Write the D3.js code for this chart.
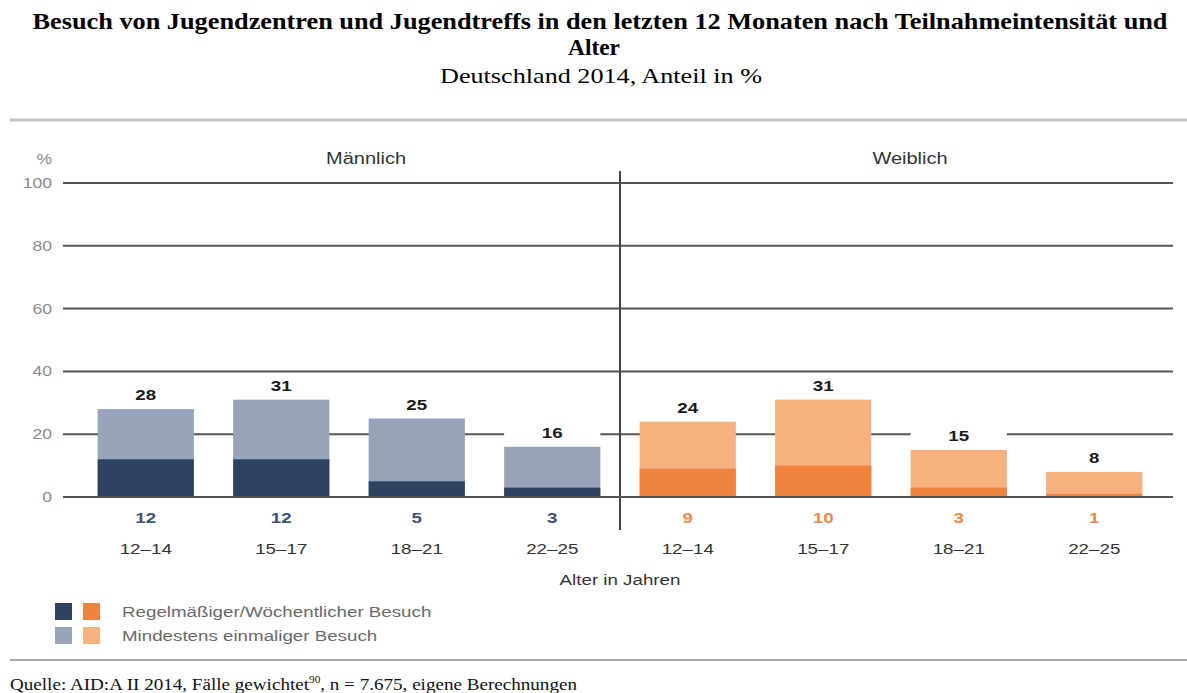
<!DOCTYPE html>
<html>
<head>
<meta charset="utf-8">
<script src="https://cdn.jsdelivr.net/npm/d3@7"></script>
<style>
  body { margin: 0; background: #fff; overflow: hidden; }
  svg text { font-family: Arial, "Liberation Sans", sans-serif; }
  svg text.serif { font-family: "Liberation Serif", "Times New Roman", serif; }
</style>
</head>
<body>
<div id="chart"></div>
<script>
// Data
var groups = ['Männlich', 'Weiblich'];
var ages = ['12–14', '15–17', '18–21', '22–25'];
var regular = { 'Männlich': [12, 12, 5, 3], 'Weiblich': [9, 10, 3, 1] };
var total   = { 'Männlich': [28, 31, 25, 16], 'Weiblich': [24, 31, 15, 8] };
var yTicks = [0, 20, 40, 60, 80, 100];
var legendItems = ['Regelmäßiger/Wöchentlicher Besuch', 'Mindestens einmaliger Besuch'];

var width = 1187,
    height = 693,
    sx = 1.25; // source text is stretched horizontally

var colors = {
  'Männlich': { dark: '#2d4360', light: '#97a3b9', label: '#3b5478' },
  'Weiblich': { dark: '#f0833f', light: '#f6b17f', label: '#f08a4c' }
};

// flatten into one row per bar
var rows = [];
groups.forEach(function(g) {
  ages.forEach(function(a, i) {
    rows.push({ key: g + '|' + a, group: g, age: a, regular: regular[g][i], total: total[g][i] });
  });
});

var svg = d3.select('#chart').append('svg')
    .attr('width', width)
    .attr('height', height);

var x = d3.scaleBand()
    .domain(rows.map(function(d) { return d.key; }))
    .range([78, 1162])
    .paddingInner(0.29)
    .paddingOuter(0.145);

var y = d3.scaleLinear().domain([0, 100]).range([497, 183]);

// stretched text helper
function stext(sel, tx, ty, str) {
  return sel.append('text')
    .attr('transform', 'translate(' + tx + ',' + ty + ') scale(' + sx + ',1)')
    .text(str);
}

// Titles
svg.append('text').attr('class', 'serif')
    .attr('x', 600).attr('y', 29)
    .attr('text-anchor', 'middle')
    .attr('font-size', 23).attr('font-weight', 'bold')
    .attr('textLength', 1135).attr('lengthAdjust', 'spacingAndGlyphs')
    .text('Besuch von Jugendzentren und Jugendtreffs in den letzten 12 Monaten nach Teilnahmeintensität und');
svg.append('text').attr('class', 'serif')
    .attr('x', 594).attr('y', 55)
    .attr('text-anchor', 'middle')
    .attr('font-size', 23).attr('font-weight', 'bold')
    .attr('textLength', 52).attr('lengthAdjust', 'spacingAndGlyphs')
    .text('Alter');
svg.append('text').attr('class', 'serif')
    .attr('x', 601).attr('y', 83)
    .attr('text-anchor', 'middle')
    .attr('font-size', 22)
    .attr('textLength', 322).attr('lengthAdjust', 'spacingAndGlyphs')
    .text('Deutschland 2014, Anteil in %');

// separators
svg.append('line')
    .attr('x1', 10).attr('x2', width).attr('y1', 120).attr('y2', 120)
    .attr('stroke', '#c4c4c4').attr('stroke-width', 3);
svg.append('line')
    .attr('x1', 10).attr('x2', width).attr('y1', 660).attr('y2', 660)
    .attr('stroke', '#aaa').attr('stroke-width', 2);

// Grid
svg.append('g').selectAll('line')
    .data(yTicks)
  .enter().append('line')
    .attr('x1', 63).attr('x2', 1173)
    .attr('y1', function(d) { return y(d); })
    .attr('y2', function(d) { return y(d); })
    .attr('stroke', '#555').attr('stroke-width', 2);

var tickG = svg.append('g')
    .attr('fill', '#8a8a8a').attr('font-size', 14).attr('text-anchor', 'end');
yTicks.forEach(function(t) {
  stext(tickG, 52, y(t) + 5, t);
});
stext(tickG, 52, 164, '%');

// group headers
var headG = svg.append('g').attr('font-size', 16).attr('fill', '#333').attr('text-anchor', 'middle');
stext(headG, 366, 164, groups[0]);
stext(headG, 910, 164, groups[1]);

// divider between groups
var divX = (x(rows[3].key) + x.bandwidth() + x(rows[4].key)) / 2;
svg.append('line')
    .attr('x1', divX).attr('x2', divX).attr('y1', 171).attr('y2', 530)
    .attr('stroke', '#444').attr('stroke-width', 2);

// label backgrounds (cover grid lines)
svg.append('g').selectAll('rect')
    .data(rows)
  .enter().append('rect')
    .attr('x', function(d) { return x(d.key); })
    .attr('y', function(d) { return y(d.total) - 22; })
    .attr('width', x.bandwidth())
    .attr('height', 22)
    .attr('fill', '#fff');

// Bars
var bars = svg.append('g');
bars.selectAll('.total')
    .data(rows)
  .enter().append('rect')
    .attr('class', 'total')
    .attr('x', function(d) { return x(d.key); })
    .attr('y', function(d) { return y(d.total); })
    .attr('width', x.bandwidth())
    .attr('height', function(d) { return y(0) - y(d.total); })
    .attr('fill', function(d) { return colors[d.group].light; });
bars.selectAll('.regular')
    .data(rows)
  .enter().append('rect')
    .attr('class', 'regular')
    .attr('x', function(d) { return x(d.key); })
    .attr('y', function(d) { return y(d.regular); })
    .attr('width', x.bandwidth())
    .attr('height', function(d) { return y(0) - y(d.regular); })
    .attr('fill', function(d) { return colors[d.group].dark; });

// zero line on top
svg.append('line')
    .attr('x1', 63).attr('x2', 1173).attr('y1', y(0)).attr('y2', y(0))
    .attr('stroke', '#555').attr('stroke-width', 2);

// value labels
var lab = svg.append('g').attr('text-anchor', 'middle').attr('font-weight', 'bold').attr('font-size', 15);
rows.forEach(function(d) {
  var cx = x(d.key) + x.bandwidth() / 2;
  stext(lab, cx, y(d.total) - 9, d.total).attr('fill', '#1a1a1a');
  stext(lab, cx, 523, d.regular).attr('fill', colors[d.group].label);
});

// age labels
var ageG = svg.append('g').attr('text-anchor', 'middle').attr('font-size', 15).attr('fill', '#333');
rows.forEach(function(d) {
  stext(ageG, x(d.key) + x.bandwidth() / 2, 554, d.age);
});
stext(ageG, divX, 585, 'Alter in Jahren');

// Legend
var leg = svg.append('g');
legendItems.forEach(function(t, i) {
  var ly = 603 + i * 24;
  leg.append('rect').attr('x', 55).attr('y', ly).attr('width', 17).attr('height', 17)
      .attr('fill', i === 0 ? colors['Männlich'].dark : colors['Männlich'].light);
  leg.append('rect').attr('x', 83).attr('y', ly).attr('width', 17).attr('height', 17)
      .attr('fill', i === 0 ? colors['Weiblich'].dark : colors['Weiblich'].light);
  stext(leg, 122, ly + 14, t).attr('font-size', 15).attr('fill', '#6a6a6a');
});

// Source
var src = svg.append('text').attr('class', 'serif')
    .attr('x', 10).attr('y', 690)
    .attr('font-size', 17).attr('fill', '#111')
    .attr('textLength', 567).attr('lengthAdjust', 'spacingAndGlyphs');
src.append('tspan').text('Quelle: AID:A II 2014, Fälle gewichtet');
src.append('tspan').attr('dy', -7).attr('font-size', 10).text('90');
src.append('tspan').attr('dy', 7).text(', n = 7.675, eigene Berechnungen');
</script>
</body>
</html>
